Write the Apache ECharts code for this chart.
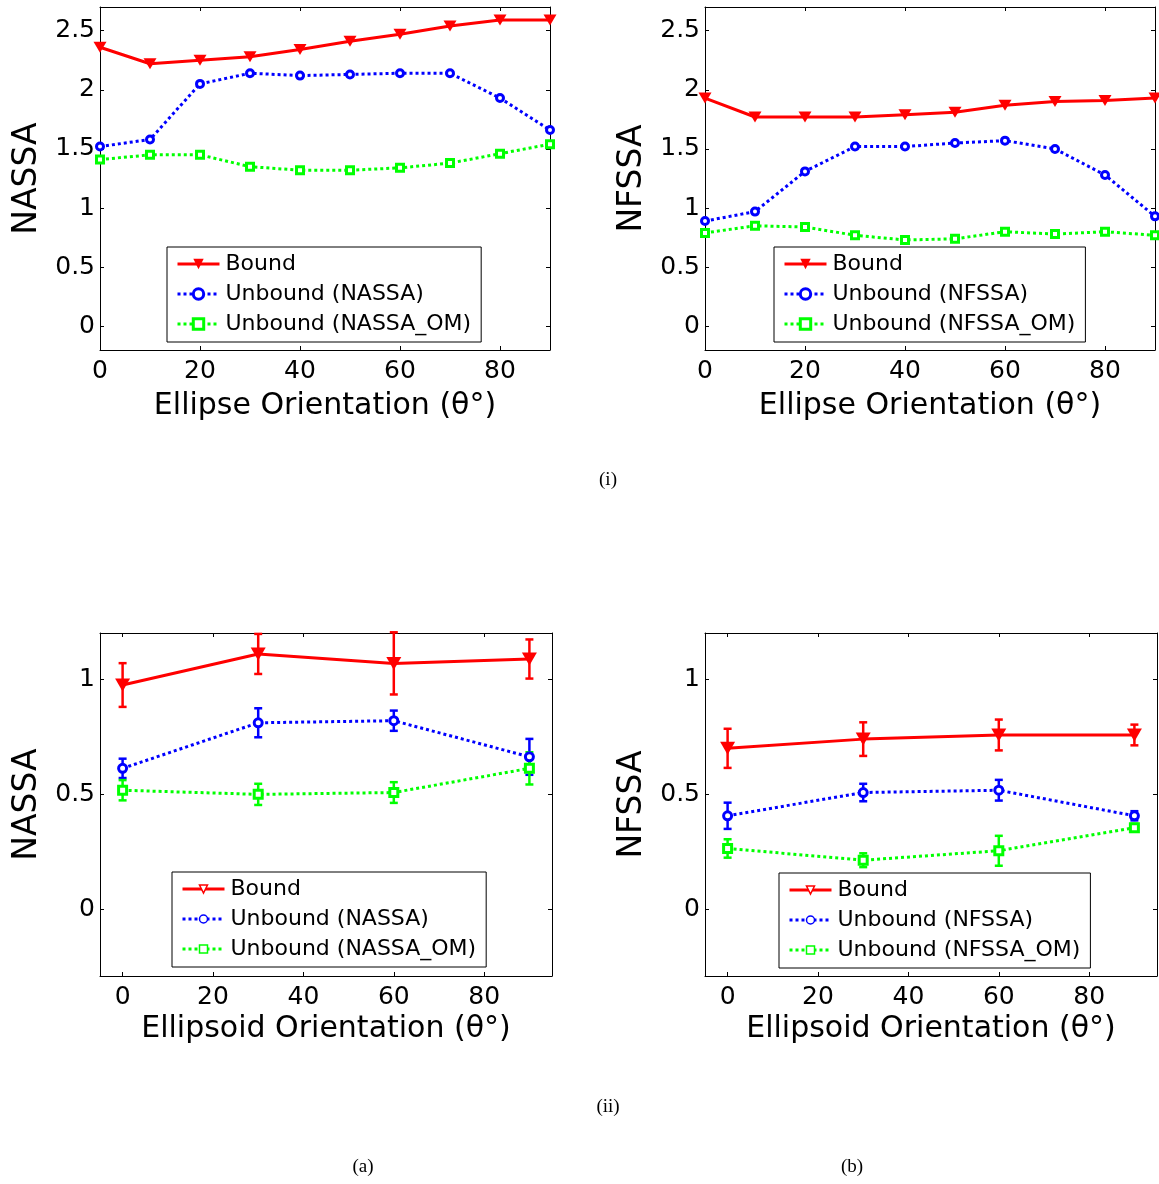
<!DOCTYPE html>
<html>
<head>
<meta charset="utf-8">
<script src="https://cdn.jsdelivr.net/npm/echarts@6/dist/echarts.min.js"></script>
<style>
html,body{margin:0;padding:0;background:#fff;}
#chart{width:1159px;height:1184px;}
</style>
</head>
<body>
<div id="chart"></div>
<script>
// ---------- data ----------
const thetaEllipse = [0, 10, 20, 30, 40, 50, 60, 70, 80, 90];
const thetaEllipsoid = [0, 30, 60, 90];

// (i)(a) NASSA, ellipse
const nassaBound      = [2.36, 2.22, 2.25, 2.28, 2.34, 2.41, 2.47, 2.54, 2.59, 2.59];
const nassaUnbound    = [1.52, 1.58, 2.05, 2.14, 2.12, 2.13, 2.14, 2.14, 1.93, 1.66];
const nassaUnboundOM  = [1.41, 1.45, 1.45, 1.35, 1.32, 1.32, 1.34, 1.38, 1.46, 1.54];
// (i)(b) NFSSA, ellipse
const nfssaBound      = [1.93, 1.77, 1.77, 1.77, 1.79, 1.81, 1.87, 1.90, 1.91, 1.93];
const nfssaUnbound    = [0.89, 0.97, 1.31, 1.52, 1.52, 1.55, 1.57, 1.50, 1.28, 0.93];
const nfssaUnboundOM  = [0.79, 0.85, 0.84, 0.77, 0.73, 0.74, 0.80, 0.78, 0.80, 0.77];

// (ii)(a) NASSA, ellipsoid (mean, error)
const ellNassaBound       = [0.974, 1.109, 1.068, 1.087];
const ellNassaBoundErr    = [0.095, 0.087, 0.135, 0.085];
const ellNassaUnbound     = [0.612, 0.810, 0.819, 0.662];
const ellNassaUnboundErr  = [0.042, 0.063, 0.044, 0.078];
const ellNassaOM          = [0.517, 0.499, 0.507, 0.612];
const ellNassaOMErr       = [0.044, 0.046, 0.045, 0.070];
// (ii)(b) NFSSA, ellipsoid
const ellNfssaBound       = [0.699, 0.739, 0.757, 0.757];
const ellNfssaBoundErr    = [0.085, 0.073, 0.067, 0.045];
const ellNfssaUnbound     = [0.406, 0.507, 0.517, 0.406];
const ellNfssaUnboundErr  = [0.057, 0.038, 0.045, 0.020];
const ellNfssaOM          = [0.264, 0.213, 0.254, 0.354];
const ellNfssaOMErr       = [0.040, 0.030, 0.065, 0.017];

const xTickVals = [0, 20, 40, 60, 80];
const yTickValsTop = [0, 0.5, 1, 1.5, 2, 2.5];
const yTickValsBottom = [0, 0.5, 1];

// ---------- styling ----------
const FONT = 'DejaVu Sans';
const RED = '#ff0000', BLUE = '#0000ff', GREEN = '#00ff00';
const TRI = 'path://M0,0L10,0L5,9Z';

const grids = [
  {left: 100, top: 7,   width: 450, height: 343},
  {left: 705, top: 7,   width: 450, height: 343},
  {left: 100, top: 633, width: 452, height: 343},
  {left: 705, top: 633, width: 452, height: 343}
];

const xAxes = [], yAxes = [];
function addAxes(gi, xmin, xmax, xname, xgap, ymin, ymax, yticks, yname) {
  const common = {
    type: 'value', gridIndex: gi, splitLine: {show: false},
    axisLine: {show: true, onZero: false, lineStyle: {color: '#000', width: 1}}
  };
  xAxes.push(Object.assign({}, common, {
    min: xmin, max: xmax, position: 'bottom',
    axisTick: {inside: true, length: 4, lineStyle: {color: '#000'}, customValues: xTickVals},
    axisLabel: {customValues: xTickVals, margin: 9, color: '#000', fontFamily: FONT, fontSize: 25},
    name: xname, nameLocation: 'middle', nameGap: xgap,
    nameTextStyle: {color: '#000', fontFamily: FONT, fontSize: 30}
  }));
  xAxes.push(Object.assign({}, common, {
    min: xmin, max: xmax, position: 'top',
    axisTick: {inside: true, length: 4, lineStyle: {color: '#000'}, customValues: xTickVals},
    axisLabel: {show: false}
  }));
  yAxes.push(Object.assign({}, common, {
    min: ymin, max: ymax, position: 'left',
    axisTick: {inside: true, length: 4, lineStyle: {color: '#000'}, customValues: yticks},
    axisLabel: {customValues: yticks, margin: 5, color: '#000', fontFamily: FONT, fontSize: 25},
    name: yname, nameLocation: 'middle', nameGap: 56,
    nameTextStyle: {color: '#000', fontFamily: FONT, fontSize: 33}
  }));
  yAxes.push(Object.assign({}, common, {
    min: ymin, max: ymax, position: 'right',
    axisTick: {inside: true, length: 4, lineStyle: {color: '#000'}, customValues: yticks},
    axisLabel: {show: false}
  }));
}
addAxes(0, 0, 90, 'Ellipse Orientation (\u03b8\u00b0)', 41, -0.2, 2.7, yTickValsTop, 'NASSA');
addAxes(1, 0, 90, 'Ellipse Orientation (\u03b8\u00b0)', 41, -0.2, 2.7, yTickValsTop, 'NFSSA');
addAxes(2, -5, 95, 'Ellipsoid Orientation (\u03b8\u00b0)', 38, -0.29, 1.2, yTickValsBottom, 'NASSA');
addAxes(3, -5, 95, 'Ellipsoid Orientation (\u03b8\u00b0)', 38, -0.29, 1.2, yTickValsBottom, 'NFSSA');

function pairs(xs, ys) { return xs.map((x, i) => [x, ys[i]]); }
function errData(xs, ys, es) { return xs.map((x, i) => [x, ys[i] - es[i], ys[i] + es[i]]); }

function lineSeries(gi, name, xs, ys, color, kind, bottom) {
  const s = {
    type: 'line', name: name, xAxisIndex: gi * 2, yAxisIndex: gi * 2,
    data: pairs(xs, ys), color: color, z: 3,
    lineStyle: {color: color, width: 3, type: kind === 'tri' ? 'solid' : [3, 3]},
    showSymbol: true, symbolKeepAspect: false, animation: false
  };
  if (kind === 'tri') {
    s.symbol = TRI; s.symbolSize = bottom ? [15, 13] : [13, 11];
    s.itemStyle = {color: color, borderWidth: 0};
  } else if (kind === 'circ') {
    s.symbol = 'circle'; s.symbolSize = bottom ? 8 : 7;
    s.itemStyle = {color: '#fff', borderColor: color, borderWidth: 3};
  } else {
    s.symbol = 'rect'; s.symbolSize = bottom ? 8 : 7;
    s.itemStyle = {color: '#fff', borderColor: color, borderWidth: 3};
  }
  return s;
}

function errSeries(gi, xs, ys, es, color) {
  return {
    type: 'custom', xAxisIndex: gi * 2, yAxisIndex: gi * 2, z: 2,
    data: errData(xs, ys, es), silent: true, animation: false,
    renderItem: function (params, api) {
      const x = api.value(0);
      const p1 = api.coord([x, api.value(1)]);
      const p2 = api.coord([x, api.value(2)]);
      const hw = 4;
      const st = {stroke: color, lineWidth: 2.5};
      return {type: 'group', children: [
        {type: 'line', shape: {x1: p1[0], y1: p1[1], x2: p2[0], y2: p2[1]}, style: st},
        {type: 'line', shape: {x1: p1[0] - hw, y1: p1[1], x2: p1[0] + hw, y2: p1[1]}, style: st},
        {type: 'line', shape: {x1: p2[0] - hw, y1: p2[1], x2: p2[0] + hw, y2: p2[1]}, style: st}
      ]};
    }
  };
}

const series = [
  lineSeries(0, 'Bound', thetaEllipse, nassaBound, RED, 'tri', false),
  lineSeries(0, 'Unbound (NASSA)', thetaEllipse, nassaUnbound, BLUE, 'circ', false),
  lineSeries(0, 'Unbound (NASSA_OM)', thetaEllipse, nassaUnboundOM, GREEN, 'sq', false),
  lineSeries(1, 'Bound', thetaEllipse, nfssaBound, RED, 'tri', false),
  lineSeries(1, 'Unbound (NFSSA)', thetaEllipse, nfssaUnbound, BLUE, 'circ', false),
  lineSeries(1, 'Unbound (NFSSA_OM)', thetaEllipse, nfssaUnboundOM, GREEN, 'sq', false),

  errSeries(2, thetaEllipsoid, ellNassaBound, ellNassaBoundErr, RED),
  errSeries(2, thetaEllipsoid, ellNassaUnbound, ellNassaUnboundErr, BLUE),
  errSeries(2, thetaEllipsoid, ellNassaOM, ellNassaOMErr, GREEN),
  lineSeries(2, 'Bound', thetaEllipsoid, ellNassaBound, RED, 'tri', true),
  lineSeries(2, 'Unbound (NASSA)', thetaEllipsoid, ellNassaUnbound, BLUE, 'circ', true),
  lineSeries(2, 'Unbound (NASSA_OM)', thetaEllipsoid, ellNassaOM, GREEN, 'sq', true),

  errSeries(3, thetaEllipsoid, ellNfssaBound, ellNfssaBoundErr, RED),
  errSeries(3, thetaEllipsoid, ellNfssaUnbound, ellNfssaUnboundErr, BLUE),
  errSeries(3, thetaEllipsoid, ellNfssaOM, ellNfssaOMErr, GREEN),
  lineSeries(3, 'Bound', thetaEllipsoid, ellNfssaBound, RED, 'tri', true),
  lineSeries(3, 'Unbound (NFSSA)', thetaEllipsoid, ellNfssaUnbound, BLUE, 'circ', true),
  lineSeries(3, 'Unbound (NFSSA_OM)', thetaEllipsoid, ellNfssaOM, GREEN, 'sq', true)
];

function legend(left, top, names, bottom) {
  const cols = [RED, BLUE, GREEN];
  const data = names.map((n, i) => {
    if (i === 0) {
      return bottom
        ? {name: n, itemStyle: {color: '#fff', borderColor: RED, borderWidth: 1.5}}
        : {name: n, itemStyle: {color: RED, borderWidth: 0}};
    }
    return {name: n, itemStyle: {color: '#fff', borderColor: cols[i], borderWidth: bottom ? 1.5 : 3}};
  });
  return {
    left: left, top: top, orient: 'vertical', data: data,
    selectedMode: false, z: 10,
    backgroundColor: '#fff', borderColor: '#000', borderWidth: 1,
    padding: [6, 10, 7, 9], itemGap: 8,
    itemWidth: 42, itemHeight: bottom ? 10 : 13,
    lineStyle: {width: 3},
    textStyle: {color: '#000', fontFamily: FONT, fontSize: 22, lineHeight: 22, padding: [0, 0, 0, 1]}
  };
}

const capFont = '19px "Liberation Serif"';
function caption(x, y, t) {
  return {type: 'text', x: x, y: y, style: {text: t, font: capFont, fill: '#000', textAlign: 'center', textVerticalAlign: 'middle'}};
}

const option = {
  animation: false,
  backgroundColor: '#fff',
  grid: grids,
  xAxis: xAxes,
  yAxis: yAxes,
  legend: [
    legend(167, 247, ['Bound', 'Unbound (NASSA)', 'Unbound (NASSA_OM)'], false),
    legend(774, 247, ['Bound', 'Unbound (NFSSA)', 'Unbound (NFSSA_OM)'], false),
    legend(172, 872, ['Bound', 'Unbound (NASSA)', 'Unbound (NASSA_OM)'], true),
    legend(779, 873, ['Bound', 'Unbound (NFSSA)', 'Unbound (NFSSA_OM)'], true)
  ],
  series: series,
  graphic: [
    caption(608, 480, '(i)'),
    caption(608, 1107, '(ii)'),
    caption(363, 1167, '(a)'),
    caption(852, 1167, '(b)')
  ]
};

const chart = echarts.init(document.getElementById('chart'), null, {renderer: 'canvas'});
chart.setOption(option);
</script>
</body>
</html>
